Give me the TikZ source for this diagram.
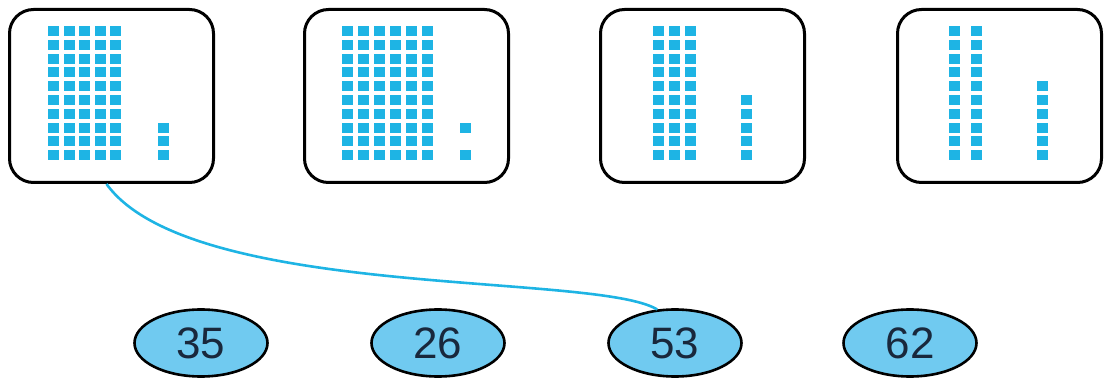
\documentclass[tikz,border=0pt]{standalone}
\usepackage{fontspec}
\setmainfont{Liberation Sans}
\usetikzlibrary{shapes.geometric}

\definecolor{cubeblue}{RGB}{30,180,228}
\definecolor{discblue}{RGB}{112,202,240}
\definecolor{numink}{RGB}{25,40,60}

\begin{document}
\begin{tikzpicture}[x=1pt, y=-1pt,
        card/.style={rectangle, draw=black, line width=3pt, rounded corners=24pt, minimum width=204pt, minimum height=173pt, anchor=north west},
        disc/.style={ellipse, draw=black, line width=2.6pt, fill=discblue, minimum width=133pt, minimum height=67pt, inner sep=0pt, text=numink, font=\fontsize{44}{44}\selectfont},
        cube/.style={fill=cubeblue},
        link/.style={draw=cubeblue, line width=2.6pt}]

    \useasboundingbox (0,0) rectangle (1104,382);

    % cards with tens and ones
    \node[card] (b53) at (8,8) {};
    \node[card] (b62) at (303,8) {};
    \node[card] (b35) at (599,8) {};
    \node[card] (b26) at (896,8) {};

    \foreach \c in {0,...,4} \foreach \r in {0,...,9}
        \fill[cube] ({48+15.6*\c},{26+13.8*\r}) rectangle ++(11,10);
    \foreach \r in {7,8,9}
        \fill[cube] (158,{26+13.8*\r}) rectangle ++(11,10);

    \foreach \c in {0,...,5} \foreach \r in {0,...,9}
        \fill[cube] ({342+15.9*\c},{26+13.8*\r}) rectangle ++(11,10);
    \foreach \r in {7,9}
        \fill[cube] (460,{26+13.8*\r}) rectangle ++(11,10);

    \foreach \c in {0,...,2} \foreach \r in {0,...,9}
        \fill[cube] ({653+16*\c},{26+13.8*\r}) rectangle ++(11,10);
    \foreach \r in {5,...,9}
        \fill[cube] (741,{26+13.8*\r}) rectangle ++(11,10);

    \foreach \c in {0,1} \foreach \r in {0,...,9}
        \fill[cube] ({949+21.5*\c},{26+13.8*\r}) rectangle ++(11,10);
    \foreach \r in {4,...,9}
        \fill[cube] (1037,{26+13.8*\r}) rectangle ++(11,10);

    % number discs
    \node[disc] (n35) at (201,343) {35};
    \node[disc] (n26) at (438,343) {26};
    \node[disc] (n53) at (675,343) {53};
    \node[disc] (n62) at (910,343) {62};

    \draw[link] ([xshift=-5pt]b53.south) .. controls (190,300) and (595,272) .. (n53.118);
\end{tikzpicture}
\end{document}
